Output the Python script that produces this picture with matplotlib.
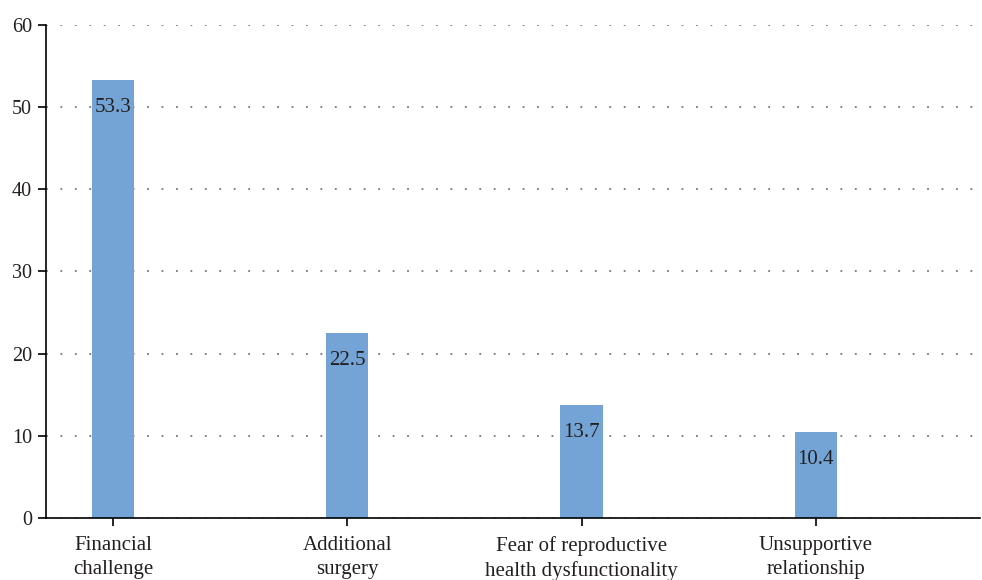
import numpy as np
import matplotlib.pyplot as plt

# 数据
categories = ["Financial\nchallenge", "Additional\nsurgery",
              "Fear of reproductive\nhealth dysfunctionality", "Unsupportive\nrelationship"]
values = [53.3, 22.5, 13.7, 10.4]
yticks = [0, 10, 20, 30, 40, 50, 60]

plt.rcParams['font.family'] = ['Liberation Serif', 'DejaVu Serif']

fig = plt.figure(figsize=(9.82, 5.80), dpi=100)
ax = fig.add_axes([0.0468, 0.107, 0.951, 0.850])

x = np.arange(len(categories))
bars = ax.bar(x, values, width=0.18, color="#74a4d6", zorder=2)

# 数值标签
for xi, v in zip(x, values):
    ax.annotate(f"{v}", (xi, v), xytext=(0, -19.5), textcoords="offset points",
                ha="center", va="center", fontsize=15, color="#231f20", zorder=3)

ax.set_xlim(-0.286, 3.70)
ax.set_ylim(0, 60)
ax.set_yticks(yticks)
ax.set_xticks(x)
ax.set_xticklabels(categories, fontsize=15, linespacing=1.35, color="#231f20")
ax.tick_params(axis="y", labelsize=14.5, length=6, width=1.2, direction="out", pad=4,
               labelcolor="#231f20")
ax.tick_params(axis="x", length=6, width=1.2, direction="out", pad=7)

# 网格线
ax.yaxis.grid(True, linestyle=(0, (1, 7)), color="#777777", linewidth=1.3, zorder=1)
ax.set_axisbelow(True)

for s in ["top", "right"]:
    ax.spines[s].set_visible(False)
ax.spines["left"].set_linewidth(1.2)
ax.spines["bottom"].set_linewidth(1.2)

plt.savefig("out.png", dpi=100)
